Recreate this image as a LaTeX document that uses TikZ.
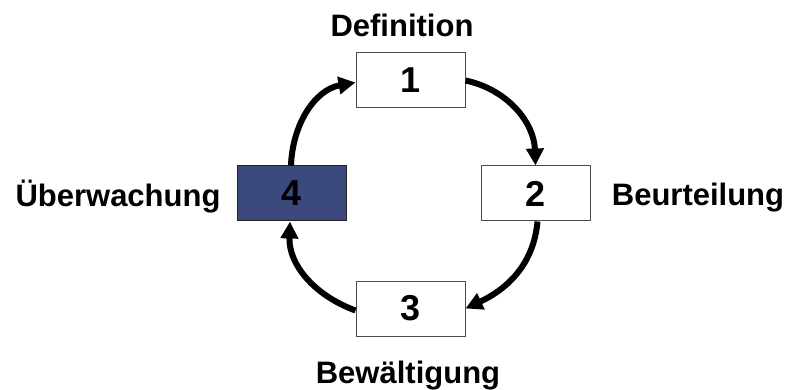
\documentclass[tikz,border=0pt]{standalone}
\usepackage{fontspec}
\setmainfont{Liberation Sans}
\usetikzlibrary{arrows.meta}

\definecolor{boxblue}{RGB}{59,73,125}

\begin{document}
\begin{tikzpicture}[x=1pt, y=-1pt,
    stepbox/.style={draw=black!70, line width=1pt, fill=white,
      minimum width=109pt, minimum height=55pt, inner sep=0pt,
      font=\fontsize{36}{40}\selectfont\bfseries},
    steplabel/.style={anchor=base, inner sep=0pt,
      font=\fontsize{31}{36}\selectfont\bfseries},
    cyclearrow/.style={line width=6pt, -{Triangle[length=17pt, width=17pt]}}]
  \useasboundingbox (0,0) rectangle (787,390);
  % the four steps
  \node[stepbox] (b1) at (410.5,80.5) {1};
  \node[stepbox] (b2) at (535.5,193.5) {2};
  \node[stepbox] (b3) at (410.5,308.5) {3};
  \node[stepbox, fill=boxblue, draw=black!85] (b4) at (292,193.5) {4};
  % labels
  \node[steplabel] (l1) at (402,37) {Definition};
  \node[steplabel] (l2) at (698,206) {Beurteilung};
  \node[steplabel] (l3) at (408,383) {Bewältigung};
  \node[steplabel] (l4) at (118,207) {Überwachung};
  % cycle
  \draw[cyclearrow] (b1.east) to[out=-12, in=92] (b2.north);
  \draw[cyclearrow] ([xshift=2pt]b2.south) to[out=-95, in=25] (b3.east);
  \draw[cyclearrow] ([yshift=-2pt]b3.west) to[out=160, in=-92] ([xshift=-2pt]b4.south);
  \draw[cyclearrow] ([xshift=-1pt]b4.north) to[out=88, in=190] ([yshift=-2pt]b1.west);
\end{tikzpicture}
\end{document}
